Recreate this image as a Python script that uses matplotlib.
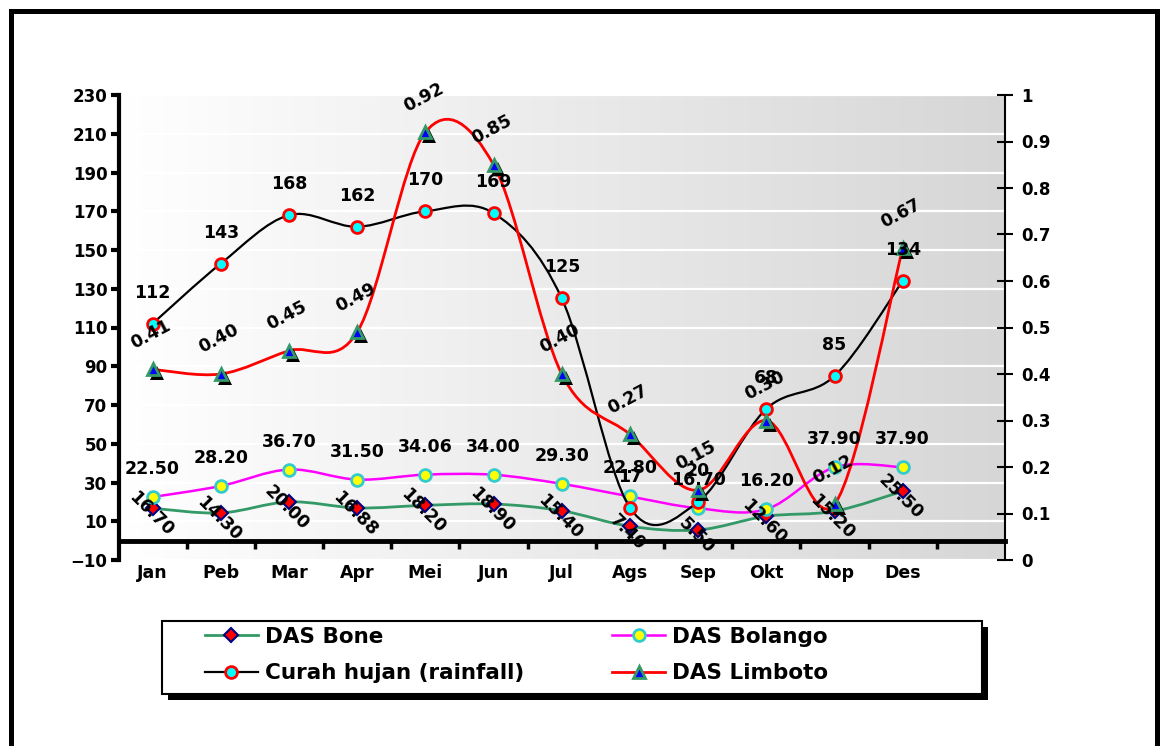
import numpy as np
import matplotlib
matplotlib.use("Agg")
import matplotlib.pyplot as plt
import matplotlib.transforms as mtransforms
from matplotlib.path import Path
from matplotlib.patches import PathPatch, Rectangle
from matplotlib.lines import Line2D
from matplotlib.ticker import FuncFormatter

plt.rcParams['font.family'] = ['DejaVu Sans']
plt.rcParams['font.weight'] = 'bold'

months = ["Jan", "Peb", "Mar", "Apr", "Mei", "Jun", "Jul", "Ags", "Sep", "Okt", "Nop", "Des"]
curah_hujan = [112, 143, 168, 162, 170, 169, 125, 17, 20, 68, 85, 134]
das_bolango = [22.50, 28.20, 36.70, 31.50, 34.06, 34.00, 29.30, 22.80, 16.70, 16.20, 37.90, 37.90]
das_bone = [16.70, 14.30, 20.00, 16.88, 18.20, 18.90, 15.40, 7.40, 5.50, 12.60, 15.20, 25.50]
das_limboto = [0.41, 0.40, 0.45, 0.49, 0.92, 0.85, 0.40, 0.27, 0.15, 0.30, 0.12, 0.67]

W, H = 1161, 746


def smooth_path(xs, ys):
    # excel style smoothed line: bezier segments from catmull-rom tangents
    pts = np.column_stack([xs, ys]).astype(float)
    n = len(pts)
    verts = [pts[0]]
    codes = [Path.MOVETO]
    for i in range(n - 1):
        p0 = pts[max(i - 1, 0)]
        p1 = pts[i]
        p2 = pts[i + 1]
        p3 = pts[min(i + 2, n - 1)]
        verts += [p1 + (p2 - p0) / 6, p2 - (p3 - p1) / 6, p2]
        codes += [Path.CURVE4] * 3
    return Path(verts, codes)


def px_rect(x0, y0, x1, y1):
    return (x0 / W, 1 - y1 / H), (x1 - x0) / W, (y1 - y0) / H


fig = plt.figure(figsize=(W / 100, H / 100), dpi=100)
fig.patch.set_facecolor("white")

ax = fig.add_axes([118.5 / W, 1 - 560 / H, (1005 - 118.5) / W, (560 - 95) / H])
ax2 = ax.twinx()
ax.set_zorder(2)
ax2.set_zorder(1)
ax.patch.set_visible(False)

x = np.arange(len(months))

ax.set_xlim(-0.5, 12.5)
ax.set_ylim(-10, 230)

# gradient plot area
grad = np.linspace(1.0, 0.84, 256)
img = np.dstack([grad, grad, grad]).repeat(2, axis=0)
ax2.imshow(img, extent=(-0.5, 12.5, 0, 1), aspect='auto', zorder=0, interpolation='bilinear')
ax2.set_xlim(-0.5, 12.5)
ax2.set_ylim(0, 1)
for yv in np.arange(0.0, 1.01, 20 / 240):
    ax2.axhline(yv, color='white', lw=1.6, zorder=0.5)

# series on left axis
ax.add_patch(PathPatch(smooth_path(x, das_bone), fill=False, edgecolor='#339966', lw=2, zorder=3))
ax.plot(x, das_bone, ls='none', marker='D', ms=7.5, mfc='red', mec='#000080', mew=1.5, zorder=4)

ax.add_patch(PathPatch(smooth_path(x, das_bolango), fill=False, edgecolor='#ff00ff', lw=1.8, zorder=3))
ax.plot(x, das_bolango, ls='none', marker='o', ms=8.5, mfc='yellow', mec='#33cccc', mew=2, zorder=4)

ax.add_patch(PathPatch(smooth_path(x, curah_hujan), fill=False, edgecolor='black', lw=1.6, zorder=5))
ax.plot(x, curah_hujan, ls='none', marker='o', ms=8.5, mfc='cyan', mec='red', mew=2, zorder=6)

# limboto on right axis scale, drawn in ax so it stacks with the rest
t2 = ax2.transData
ax.add_patch(PathPatch(smooth_path(x, das_limboto), fill=False, edgecolor='red', lw=2, zorder=7, transform=t2))
shadow = t2 + mtransforms.ScaledTranslation(0.04, -0.04, fig.dpi_scale_trans)
ax.plot(x, das_limboto, ls='none', marker='^', ms=10, mfc='black', mec='black', mew=0, zorder=8, transform=shadow)
ax.plot(x, das_limboto, ls='none', marker='^', ms=8, mfc='blue', mec='#339966', mew=2, zorder=9, transform=t2)

# data labels
lab = dict(ha='center', va='center', fontsize=12.5, fontweight='bold', zorder=10, textcoords='offset pixels')
for i, v in enumerate(das_bone):
    ax.annotate(f"{v:.2f}", (i, v), xytext=(-2, -6), rotation=-45, **lab)
for i, v in enumerate(das_bolango):
    ax.annotate(f"{v:.2f}", (i, v), xytext=(0, 28), **lab)
for i, v in enumerate(curah_hujan):
    ax.annotate(f"{v:d}", (i, v), xytext=(0, 31), **lab)
for i, v in enumerate(das_limboto):
    ax.annotate(f"{v:.2f}", (i, v), xycoords=t2, xytext=(-2, 35), rotation=28, **lab)

# axes styling
for s in ['top', 'right']:
    ax.spines[s].set_visible(False)
ax.spines['bottom'].set_position(('data', 0))
ax.spines['bottom'].set_linewidth(3.5)
ax.spines['left'].set_linewidth(3)
for s in ['top', 'left', 'bottom']:
    ax2.spines[s].set_visible(False)
ax2.spines['right'].set_linewidth(1.5)

ax.set_xticks(x)
ax.set_xticklabels(months)
ax.set_xticks(np.arange(0.5, 12, 1), minor=True)
ax.tick_params(axis='x', which='major', length=0, pad=17, labelsize=12.5)
ax.tick_params(axis='x', which='minor', length=6, width=2.5, direction='out')
ax.set_yticks(np.arange(-10, 231, 20))
ax.tick_params(axis='y', length=6, width=3, direction='out', pad=2, labelsize=12)

ax2.set_yticks(np.arange(0, 1.01, 0.1))
ax2.yaxis.set_major_formatter(FuncFormatter(lambda v, p: "%g" % round(v, 1)))
ax2.tick_params(axis='y', length=12, width=1.5, direction='inout', pad=6, labelsize=12)

# legend box with shadow
(lx, ly), lw_, lh = px_rect(168, 627, 988, 700)
fig.add_artist(Rectangle((lx, ly), lw_, lh, transform=fig.transFigure, facecolor='black', edgecolor='none'))
(lx, ly), lw_, lh = px_rect(162, 621, 982, 694)
fig.add_artist(Rectangle((lx, ly), lw_, lh, transform=fig.transFigure, facecolor='white', edgecolor='black', lw=1.5))

handles = [
    Line2D([], [], color='#339966', lw=2, marker='D', ms=7.5, mfc='red', mec='#000080', mew=1.5),
    Line2D([], [], color='black', lw=1.6, marker='o', ms=8.5, mfc='cyan', mec='red', mew=2),
    Line2D([], [], color='#ff00ff', lw=1.8, marker='o', ms=8.5, mfc='yellow', mec='#33cccc', mew=2),
    Line2D([], [], color='red', lw=2, marker='^', ms=8, mfc='blue', mec='#339966', mew=2),
]
labels = ["DAS Bone", "Curah hujan (rainfall)", "DAS Bolango", "DAS Limboto"]
leg = fig.legend(handles, labels, ncol=2, loc='upper left', bbox_to_anchor=(205 / W, 1 - 627 / H),
                 frameon=False, handlelength=2.45, handletextpad=0.33, columnspacing=4.1,
                 labelspacing=0.75, borderpad=0, borderaxespad=0,
                 prop={'size': 15.5, 'weight': 'bold'})
leg.set_zorder(20)

# outer frame
(bx, by), bw, bh = px_rect(10.5, 10.5, 1157, 800)
fig.add_artist(Rectangle((bx, by), bw, bh, transform=fig.transFigure, facecolor='none', edgecolor='black', lw=3.6))

fig.savefig("out.png", dpi=100)
